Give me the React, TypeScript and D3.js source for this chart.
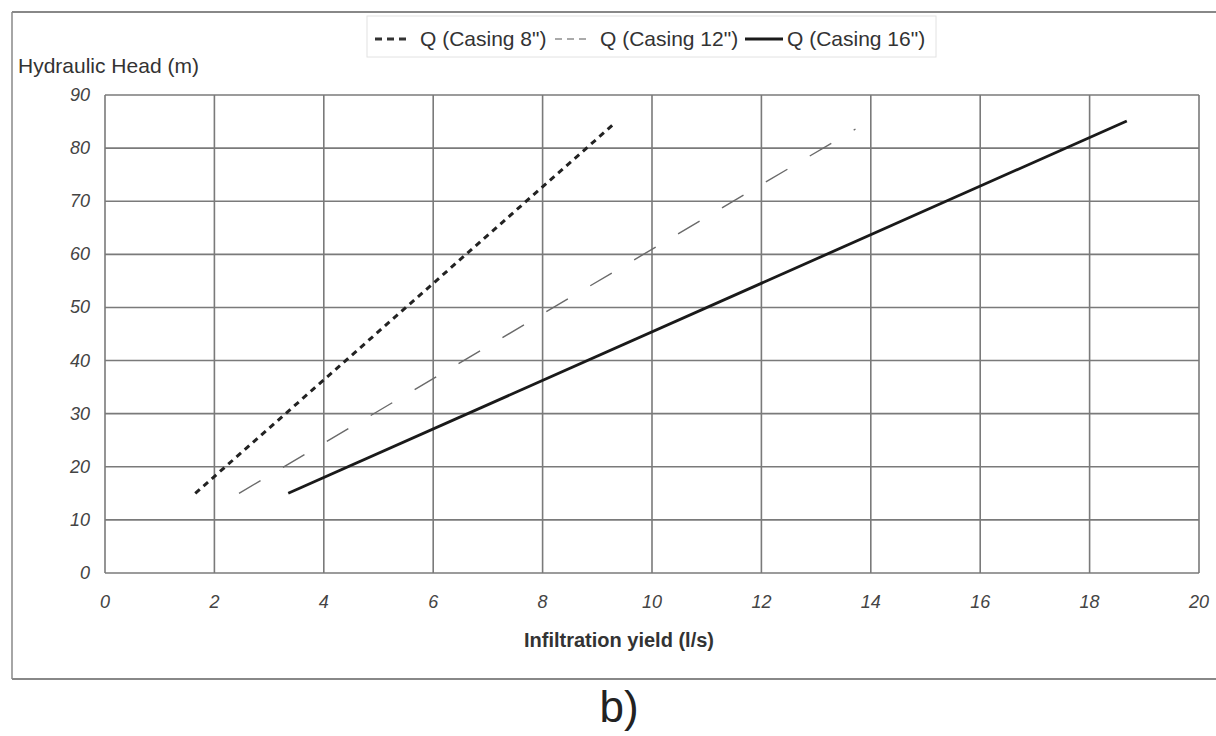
import * as d3 from "d3";
import React from "react";

// values
const xTicks = [0, 2, 4, 6, 8, 10, 12, 14, 16, 18, 20];
const yTicks = [0, 10, 20, 30, 40, 50, 60, 70, 80, 90];

const casing8 = [
  { q: 1.65, h: 15 },
  { q: 9.33, h: 84.8 },
];
const casing12 = [
  { q: 2.45, h: 15 },
  { q: 13.72, h: 83.6 },
];
const casing16 = [
  { q: 3.35, h: 15 },
  { q: 18.68, h: 85.1 },
];

const seriesNames = ['Q (Casing 8")', 'Q (Casing 12")', 'Q (Casing 16")'];

const W = 1216;
const H = 736;
const plot = { left: 105, right: 1199, top: 95, bottom: 573 };
const font = "Arial, 'Liberation Sans', Helvetica, sans-serif";

const App: React.FC = () => {
  const x = d3.scaleLinear().domain([0, 20]).range([plot.left, plot.right]);
  const y = d3.scaleLinear().domain([0, 90]).range([plot.bottom, plot.top]);

  const line = d3
    .line<{ q: number; h: number }>()
    .x((d) => x(d.q))
    .y((d) => y(d.h));

  const styles = [
    { data: casing8, stroke: "#222", width: 3, dash: "6,5", legendStroke: "#333", legendDash: "7,5" },
    { data: casing12, stroke: "#6a6a6a", width: 1.4, dash: "25,26", legendStroke: "#aaa", legendDash: "7,5" },
    { data: casing16, stroke: "#1a1a1a", width: 2.8, dash: "none", legendStroke: "#1a1a1a", legendDash: "none" },
  ];

  // legend item positions (sample start, sample end, text start)
  const legendItems = [
    { x0: 375, x1: 408, tx: 420 },
    { x0: 555, x1: 588, tx: 600 },
    { x0: 745, x1: 783, tx: 787 },
  ];

  return (
    <svg width={W} height={H} style={{ position: "absolute", left: 0, top: 0, background: "#fff" }}>
      {/* outer frame */}
      <line x1={12} y1={12} x2={W} y2={12} stroke="#888" strokeWidth={2} />
      <line x1={12} y1={12} x2={12} y2={679} stroke="#888" strokeWidth={1.5} />
      <line x1={12} y1={679} x2={W} y2={679} stroke="#888" strokeWidth={2} />

      {/* legend */}
      <rect x={367} y={16} width={569} height={41} fill="#fff" stroke="#e2e2e2" strokeWidth={1} />
      {legendItems.map((it, i) => (
        <g key={i}>
          <line
            x1={it.x0}
            x2={it.x1}
            y1={39}
            y2={39}
            stroke={styles[i].legendStroke}
            strokeWidth={i === 1 ? 2 : 3}
            strokeDasharray={styles[i].legendDash}
          />
          <text x={it.tx} y={46} fontFamily={font} fontSize={21} fill="#333">
            {seriesNames[i]}
          </text>
        </g>
      ))}

      {/* y title */}
      <text x={18} y={73} fontFamily={font} fontSize={21} fill="#333">
        Hydraulic Head (m)
      </text>

      {/* grid */}
      {xTicks.map((t) => (
        <line key={"gx" + t} x1={x(t)} x2={x(t)} y1={plot.top} y2={plot.bottom} stroke="#7a7a7a" strokeWidth={1.6} />
      ))}
      {yTicks.map((t) => (
        <line key={"gy" + t} x1={plot.left} x2={plot.right} y1={y(t)} y2={y(t)} stroke="#7a7a7a" strokeWidth={1.6} />
      ))}

      {/* tick labels */}
      {yTicks.map((t) => (
        <text
          key={"ty" + t}
          x={90}
          y={y(t) + 6}
          textAnchor="end"
          fontFamily={font}
          fontStyle="italic"
          fontSize={18}
          fill="#444"
        >
          {t}
        </text>
      ))}
      {xTicks.map((t) => (
        <text
          key={"tx" + t}
          x={x(t)}
          y={608}
          textAnchor="middle"
          fontFamily={font}
          fontStyle="italic"
          fontSize={18}
          fill="#444"
        >
          {t}
        </text>
      ))}

      {/* x title */}
      <text x={619} y={647} textAnchor="middle" fontFamily={font} fontWeight="bold" fontSize={20} fill="#333">
        Infiltration yield (l/s)
      </text>

      {/* series */}
      {styles.map((s, i) => (
        <path
          key={"s" + i}
          d={line(s.data) || ""}
          fill="none"
          stroke={s.stroke}
          strokeWidth={s.width}
          strokeDasharray={s.dash}
        />
      ))}

      {/* panel label */}
      <text x={619} y={722} textAnchor="middle" fontFamily={font} fontSize={44} fill="#222">
        b)
      </text>
    </svg>
  );
};

export default App;
